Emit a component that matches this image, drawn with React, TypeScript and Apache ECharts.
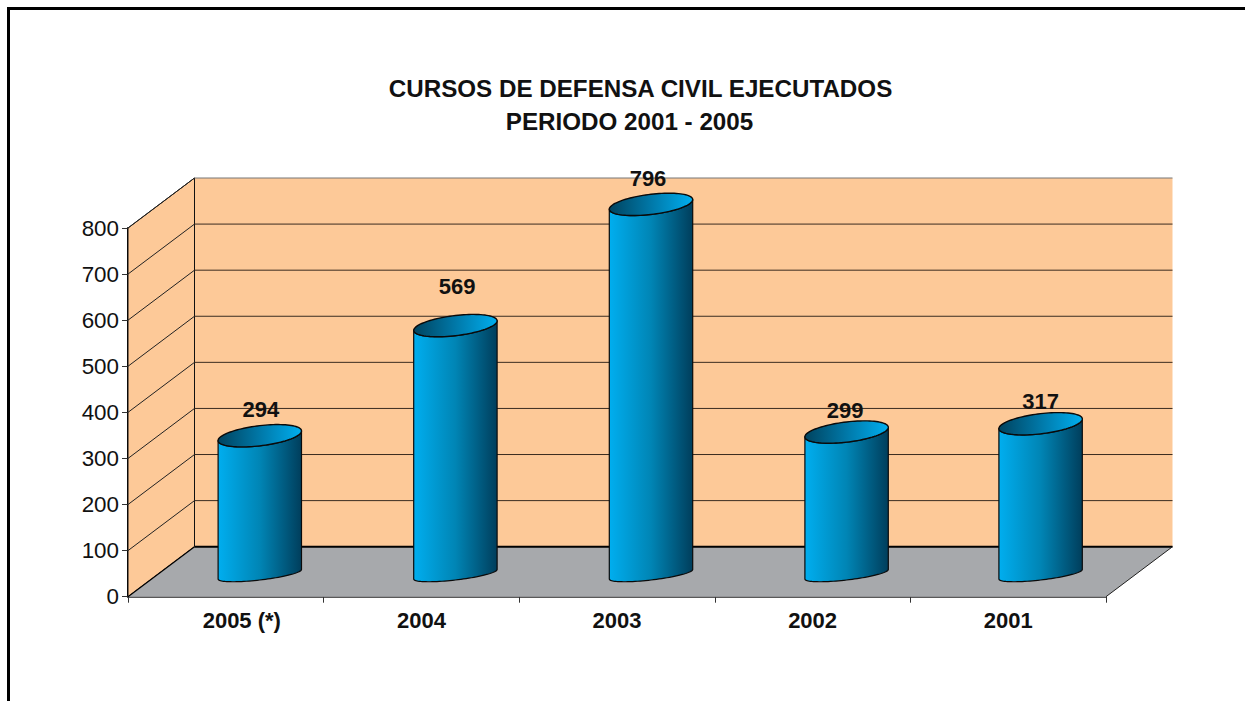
import React, { useEffect, useRef } from "react";
import * as echarts from "echarts";

const titleLines = ["CURSOS DE DEFENSA CIVIL EJECUTADOS", "PERIODO 2001 - 2005"];
const categories = ["2005 (*)", "2004", "2003", "2002", "2001"];
// Values printed above the cylinders.
const courseLabels = [294, 569, 796, 299, 317];
// Heights of the cylinders as drawn in the picture, read against the value axis.
const drawnValues = [295, 534, 797, 303, 321];
const yTicks = [0, 100, 200, 300, 400, 500, 600, 700, 800];

// Layout only: the oblique projection of the 3D box and small label shifts.
const DEPTH_X = 66.5;
const DEPTH_Y = 50;
const MID_X = 34;
const MID_Y = 25;
const BASE_DROP = 2.6;
const RX = 41.7;
const TILT = 4.8;
const RY = 10.1;
const RY_BASE = 5.7;
const barShift = [0, 0, 0, 0, -1.6];
const labelShift = [
  [1, 26.7],
  [1.8, 39.3],
  [-3, 26],
  [-1.5, 22],
  [0, 22.7],
];
const FONT = '"Liberation Sans", Arial, sans-serif';
const INK = "#111111";

function ellipsePoint(cx: number, cy: number, t: number, ry: number) {
  return [cx + RX * Math.cos(t), cy - TILT * Math.cos(t) + ry * Math.sin(t)];
}

function renderFrame(params: any) {
  const c = params.coordSys;
  const x0 = c.x;
  const x1 = c.x + c.width;
  const top = c.y;
  const bot = c.y + c.height;
  const dx = DEPTH_X;
  const dy = DEPTH_Y;
  return {
    type: "group",
    children: [
      {
        type: "rect",
        shape: { x: x0 + dx, y: top - dy, width: c.width, height: c.height },
        style: { fill: "#FDC998" },
      },
      {
        type: "polygon",
        shape: { points: [[x0, bot], [x0 + dx, bot - dy], [x0 + dx, top - dy], [x0, top]] },
        style: { fill: "#FDC998", stroke: "#111", lineWidth: 1 },
      },
      {
        type: "polygon",
        shape: { points: [[x0, bot], [x0 + dx, bot - dy], [x1 + dx, bot - dy], [x1, bot]] },
        style: { fill: "#A7A9AC" },
      },
      {
        type: "line",
        shape: { x1: x0 + dx, y1: bot - dy, x2: x1 + dx, y2: bot - dy },
        style: { stroke: "#000", lineWidth: 2 },
      },
      {
        type: "line",
        shape: { x1: x1, y1: bot, x2: x1 + dx, y2: bot - dy },
        style: { stroke: "#222", lineWidth: 1 },
      },
      {
        type: "line",
        shape: { x1: x0, y1: bot, x2: x0 + dx, y2: bot - dy },
        style: { stroke: "#000", lineWidth: 1.2 },
      },
    ],
  };
}

function renderGridLine(params: any, api: any) {
  const value = api.value(0);
  const c = params.coordSys;
  const y = api.coord([0, value])[1];
  if (value === 0) return { type: "group", children: [] };
  return {
    type: "group",
    children: [
      {
        type: "line",
        shape: { x1: c.x, y1: y, x2: c.x + DEPTH_X, y2: y - DEPTH_Y },
        style: { stroke: "#222", lineWidth: 1 },
      },
      {
        type: "line",
        shape: { x1: c.x + DEPTH_X, y1: y - DEPTH_Y, x2: c.x + c.width + DEPTH_X, y2: y - DEPTH_Y },
        style: { stroke: value === 800 ? "#777" : "#3a2c20", lineWidth: 1 },
      },
    ],
  };
}

function renderCylinder(params: any, api: any) {
  const idx = params.dataIndex;
  const top = api.coord([idx, api.value(1)]);
  const base = api.coord([idx, 0]);
  const cx = top[0] + MID_X + barShift[idx];
  const topY = top[1] - MID_Y;
  const botY = base[1] - MID_Y + BASE_DROP;
  const n = 48;
  const side: number[][] = [];
  for (let i = 0; i <= n; i++) side.push(ellipsePoint(cx, botY, Math.PI - (Math.PI * i) / n, RY_BASE));
  for (let i = 0; i <= n; i++) side.push(ellipsePoint(cx, topY, (Math.PI * i) / n, RY));
  const cap: number[][] = [];
  for (let i = 0; i < 2 * n; i++) cap.push(ellipsePoint(cx, topY, (Math.PI * i) / n, RY));
  const shift = labelShift[idx];
  return {
    type: "group",
    children: [
      {
        type: "polygon",
        shape: { points: side },
        style: {
          fill: new echarts.graphic.LinearGradient(0, 0, 1, 0, [
            { offset: 0, color: "#00AEEF" },
            { offset: 0.5, color: "#0085B5" },
            { offset: 1, color: "#003E5C" },
          ]),
          stroke: "#0a0a0a",
          lineWidth: 1.2,
          lineJoin: "round",
        },
      },
      {
        type: "polygon",
        shape: { points: cap },
        style: {
          fill: new echarts.graphic.LinearGradient(0, 0, 1, 0, [
            { offset: 0, color: "#00435F" },
            { offset: 0.5, color: "#0078A8" },
            { offset: 1, color: "#00AEEF" },
          ]),
          stroke: "#0a0a0a",
          lineWidth: 1.4,
        },
      },
      {
        type: "text",
        style: {
          x: cx + shift[0],
          y: topY - shift[1],
          text: String(courseLabels[idx]),
          align: "center",
          verticalAlign: "middle",
          font: `bold 22px ${FONT}`,
          fill: INK,
        },
      },
    ],
  };
}

export default function App() {
  const ref = useRef<HTMLDivElement>(null);
  useEffect(() => {
    document.body.style.margin = "0";
    document.body.style.background = "#fff";
    const chart = echarts.init(ref.current!, undefined, { renderer: "svg" });
    const titleStyle = { fontFamily: FONT, fontWeight: "bold", fontSize: 24.2, lineHeight: 33, color: INK };
    chart.setOption({
      animation: false,
      backgroundColor: "#fff",
      title: [
        { text: titleLines[0], left: 640.5, top: 72, textAlign: "center", padding: 0, textStyle: titleStyle },
        { text: titleLines[1], left: 629.5, top: 105, textAlign: "center", padding: 0, textStyle: titleStyle },
      ],
      graphic: [
        {
          type: "rect",
          shape: { x: 8.5, y: 8.5, width: 1400, height: 900 },
          style: { fill: "none", stroke: "#000", lineWidth: 3 },
          silent: true,
        },
      ],
      grid: { left: 128, top: 228, width: 978, height: 368.7 },
      xAxis: {
        type: "category",
        data: categories,
        boundaryGap: true,
        axisLine: { show: true, lineStyle: { color: "#222", width: 1.5 } },
        axisTick: { show: true, alignWithLabel: false, length: 6, lineStyle: { color: "#333", width: 1 } },
        axisLabel: {
          interval: 0,
          margin: 13,
          color: INK,
          fontFamily: FONT,
          fontSize: 22,
          fontWeight: "bold",
          formatter: (v: string, i: number) => (i === 0 ? `{first|${v}}` : v),
          rich: {
            first: {
              fontFamily: FONT,
              fontSize: 22,
              fontWeight: "bold",
              color: INK,
              padding: [0, 0, 0, 32],
            },
          },
        },
      },
      yAxis: {
        type: "value",
        min: 0,
        max: 800,
        interval: 100,
        axisLine: { show: true, lineStyle: { color: "#000", width: 2 } },
        axisTick: { show: true, length: 6, lineStyle: { color: "#333", width: 1 } },
        splitLine: { show: false },
        axisLabel: { margin: 9, color: INK, fontFamily: FONT, fontSize: 22.4, padding: [0, 0, 4, 0] },
      },
      series: [
        {
          type: "custom",
          name: "frame",
          clip: false,
          silent: true,
          z: 1,
          data: [[0]],
          encode: { y: 0 },
          renderItem: renderFrame,
        },
        {
          type: "custom",
          name: "gridlines",
          clip: false,
          silent: true,
          z: 2,
          data: yTicks.map((v) => [v]),
          encode: { y: 0 },
          renderItem: renderGridLine,
        },
        {
          type: "custom",
          name: "Cursos",
          clip: false,
          silent: true,
          z: 3,
          data: drawnValues.map((v, i) => [i, v]),
          encode: { x: 0, y: 1 },
          renderItem: renderCylinder,
        },
      ],
    });
    return () => chart.dispose();
  }, []);
  return <div ref={ref} style={{ position: "fixed", left: 0, top: 0, width: 1245, height: 701, overflow: "hidden" }} />;
}
